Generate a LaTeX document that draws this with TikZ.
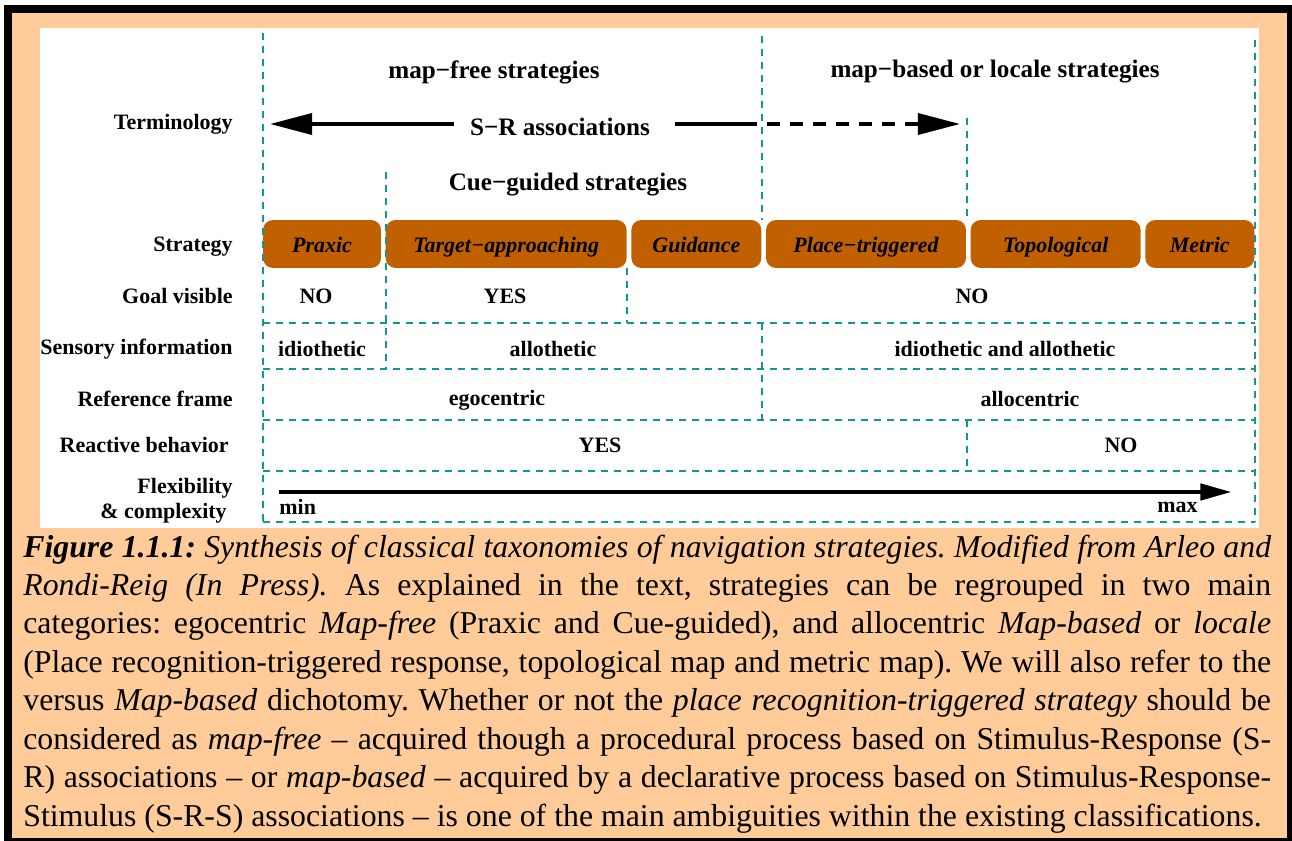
\documentclass[tikz,border=0pt]{standalone}
\usepackage{fontspec}
\setmainfont{Liberation Serif}
\usetikzlibrary{arrows.meta,positioning}
\definecolor{peach}{RGB}{255,204,153}
\definecolor{stratbrown}{RGB}{192,96,0}
\definecolor{gridteal}{RGB}{20,150,150}

\begin{document}
\begin{tikzpicture}[x=0.02cm,y=-0.02cm]

  \tikzset{row label/.style={anchor=east, inner sep=0pt,
  		font=\fontsize{12.5pt}{14.2pt}\selectfont\bfseries}, }
  \tikzset{cell/.style={inner sep=0pt,
  		font=\fontsize{12.5pt}{14.2pt}\selectfont\bfseries}, }
  \tikzset{head/.style={inner sep=0pt,
  		font=\fontsize{14.3pt}{16pt}\selectfont\bfseries}, }
  \tikzset{strat box/.style={rectangle, fill=stratbrown, rounded corners=5.7pt,
  		minimum height=0.96cm, inner sep=0pt, text height=11pt, text depth=1.1pt,
  		font=\fontsize{12.5pt}{14.2pt}\selectfont\bfseries\itshape}, }
  \tikzset{grid line/.style={gridteal, line width=1.1pt, dash pattern=on 4pt off 3.4pt}, }
  \tikzset{linea/.style={line width=2pt, -{Triangle[length=24pt,width=12pt]}}, }
  \tikzset{lineb/.style={line width=2.8pt, -{Triangle[length=18pt,width=9pt]}}, }

  \useasboundingbox (0,0) rectangle (1292,841);
  % frame and panel
  \fill[black] (4,5) rectangle (1292,841);
  \fill[peach] (12,13) rectangle (1287,838);
  \fill[white] (40,28) rectangle (1259,528);

  % row labels
   \node[row label] (term)  at (233,124) {Terminology};
   \node[row label] (strat) at (233,247) {Strategy};
   \node[row label] (goal)  at (233,296) {Goal visible};
   \node[row label] (sens)  at (233,349) {Sensory information};
   \node[row label] (ref)   at (233,399) {Reference frame};
   \node[row label] (react) at (229,445) {Reactive behavior};
   \node[row label, align=right] (flex) at (233,501)
        {Flexibility\\\&~complexity\hspace*{3.4pt}};

  % terminology
   \node[head] (mapfree)  at (494,72)  {map−free strategies};
   \node[head] (mapbased) at (995,72)  {map−based or locale strategies};
   \node[head, inner xsep=9pt] (sr) at (560,127) {S−R associations};
   \node[head] (cue)      at (568,185) {Cue−guided strategies};
   \coordinate (srleft)  at (270,124);
   \coordinate (srmid)   at (757,124);
   \coordinate (srgap)   at (767,124);
   \coordinate (srright) at (960,124);
   \draw[linea] (sr.west |- srleft) -- (srleft);
   \draw[line width=2pt] ([xshift=5pt]sr.east |- srmid) -- (srmid);
   \draw[linea, dash pattern=on 7.4pt off 5.7pt] (srgap) -- (srright);

  % strategies
   \node[strat box, minimum width=2.36cm] (praxic) at (322,244) {Praxic};
   \node[strat box, minimum width=4.82cm, right=0.08cm of praxic] (target) {Target−approaching};
   \node[strat box, minimum width=2.6cm,  right=0.08cm of target] (guid) {Guidance};
   \node[strat box, minimum width=4cm,    right=0.08cm of guid]   (place) {Place−triggered};
   \node[strat box, minimum width=3.4cm,  right=0.08cm of place]  (topo) {Topological};
   \node[strat box, minimum width=2.18cm, right=0.08cm of topo]   (metric) {Metric};

  % cells
   \node[cell] (goalno)   at (316,296)  {NO};
   \node[cell] (goalyes)  at (505,296)  {YES};
   \node[cell] (goalno2)  at (972,296)  {NO};
   \node[cell] (idio)     at (322,349)  {idiothetic};
   \node[cell] (allo)     at (553,349)  {allothetic};
   \node[cell] (both)     at (1005,349) {idiothetic and allothetic};
   \node[cell] (ego)      at (497,400)  {egocentric};
   \node[cell] (allocent) at (1030,399) {allocentric};
   \node[cell] (reactyes) at (600,445)  {YES};
   \node[cell] (reactno)  at (1121,445) {NO};
   \node[cell, anchor=west] (min) at (279,507)  {min};
   \node[cell, anchor=east] (max) at (1198,507) {max};
   \coordinate (flexleft)  at (279,492);
   \coordinate (flexright) at (1232,492);
   \draw[lineb] (flexleft) -- (flexright);

  % dashed grid
\foreach \y in {323,369,420,471,522}
  \draw[grid line] (263,\y) -- (1255,\y);
\foreach \x/\ya/\yb in {263/33/522, 1255/40/522, 386/172/369, 627/268/323,
                        762/36/220, 762/323/420, 967/118/220, 967/420/471}
  \draw[grid line] (\x,\ya) -- (\x,\yb);

  % caption
   \node[anchor=base west, text width=24.96cm, align=justify, inner sep=0pt,
         font=\fontsize{18.1pt}{21.9pt}\selectfont] (caption) at (23,557)
   {\hyphenpenalty=10000 \tolerance=9999 \frenchspacing
    \textbf{\textit{Figure 1.1.1:}} \textit{Synthesis of classical taxonomies of navigation strategies. Modified from Arleo and\linebreak
    Rondi-Reig (In Press).} As explained in the text, strategies can be regrouped in two main\linebreak
    categories: egocentric \textit{Map-free} (Praxic and Cue-guided), and allocentric \textit{Map-based} or \textit{locale}\linebreak
    (Place recognition-triggered response, topological map and metric map). We will also refer to the\linebreak
    versus \textit{Map-based} dichotomy. Whether or not the \textit{place recognition-triggered strategy} should be\linebreak
    considered as \textit{map-free} – acquired though a procedural process based on Stimulus-Response (S-\linebreak
    R) associations – or \textit{map-based} – acquired by a declarative process based on Stimulus-Response-\linebreak
    Stimulus (S-R-S) associations – is one of the main ambiguities within the existing classifications.};
%
\end{tikzpicture}
\end{document}
